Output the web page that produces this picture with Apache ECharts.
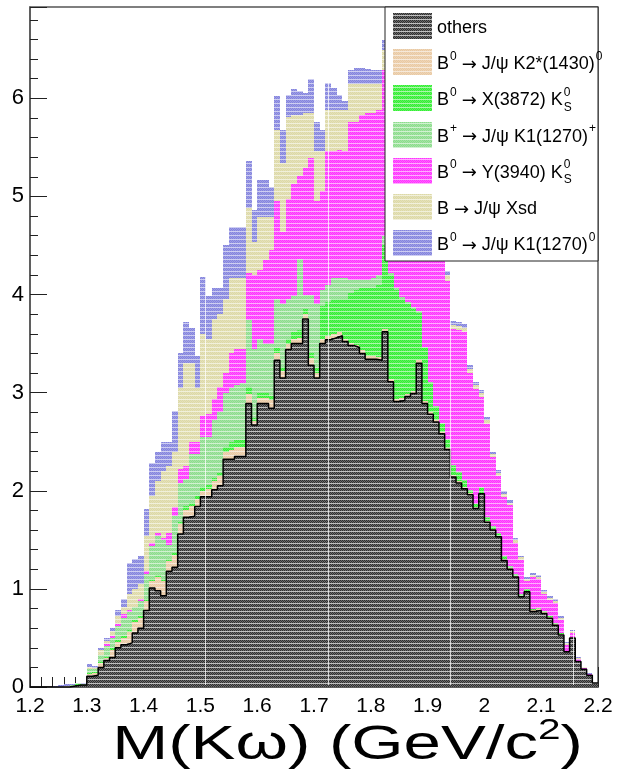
<!DOCTYPE html>
<html><head><meta charset="utf-8">
<script src="https://cdn.jsdelivr.net/npm/echarts@6/dist/echarts.min.js"></script>
<style>html,body{margin:0;padding:0;background:#fff}#c{width:617px;height:776px}</style>
</head><body><div id="c"></div>
<script>
// ---------------- data ----------------
const xMin = 1.2, xMax = 2.2, binWidth = 0.01, nBins = 100;
const yMax = 6.93;
const xTickLabels = ['1.2','1.3','1.4','1.5','1.6','1.7','1.8','1.9','2','2.1','2.2'];
const yTickLabels = ['0','1','2','3','4','5','6'];

const others = [0,0,0,0,0,0,0,0.01,0.02,0.02, 0.11,0.12,0.20,0.27,0.30,0.40,0.43,0.45,0.55,0.60, 0.78,1.01,0.98,0.93,1.18,1.22,1.56,1.73,1.74,1.84, 1.94,1.94,2.01,2.05,2.32,2.32,2.35,2.35,2.89,2.67, 2.89,2.89,2.84,3.33,3.15,3.44,3.50,3.50,3.75,3.28, 3.15,3.50,3.54,3.56,3.58,3.52,3.48,3.46,3.40,3.34, 3.34,3.33,3.62,3.11,2.91,2.92,2.96,2.99,3.30,2.89, 2.78,2.70,2.58,2.42,2.14,2.08,2.02,1.96,1.82,1.97, 1.68,1.60,1.53,1.29,1.20,1.12,0.92,0.97,0.77,0.78, 0.75,0.70,0.63,0.53,0.36,0.50,0.26,0.18,0.12,0.04];
const k2_1430 = [0,0,0,0,0,0,0,0,0,0, .02,.02,.04,.03,.08,.06,.07,.11,.11,.10, .10,.07,.14,.15,.10,.13,.10,.07,.10,.08, .06,.08,.09,.10,.08,.10,.10,.10,.10,.04, .06,.06,.08,.07,.07,.06,.05,.06,.05,.07, .05,.05,.04,.04,.04,.03,.03,.03,.03,.03, .03,.03,.03,.03,.03,.03,.03,.03,.03,.02, .02,.02,.02,.02,.02,.02,.02,.02,.01,.01, .01,.01,.01,.01,.01,.01,.01,.01,.01,.01, .01,.01,.01,.01,.01,.01,.01,0,0,0];
const x3872 = [0,0,0,0,0,0,0,0,.01,0, .01,.01,.01,.01,.02,.02,.02,.02,.02,.02, .02,.02,.02,.02,.02,.02,.02,.04,.04,.03, .04,.04,.03,.03,.05,.08,.07,.07,.07,.03, .05,.05,.05,.05,.04,.05,.07,.08,.05,.05, .05,.33,.34,.35,.33,.40,.51,.56,.64,.70, .70,.74,.85,1.06,1.11,1.00,.91,.83,.48,.54, .30,.13,.08,.08,.09,.08,.06,.02,.03,.05, .03,.02,.02,.02,.01,.01,.01,.01,.01,.01, .01,.01,.01,.01,0,0,0,0,0,0];
const k1p_1270 = [0,0,0,0,0,0,0,.01,.01,.01, .04,.03,.08,.11,.10,.14,.18,.18,.14,.16, .25,.34,.40,.40,.15,.37,.40,.28,.49,.42, .51,.49,.59,.62,.55,.55,.56,.58,.68,.70, .55,.50,.53,.50,.64,.40,.36,.72,.15,.60, .65,.17,.18,.22,.22,.22,.13,.10,.08,.08, .10,.10,.10,.02,.02,.02,.02,.02,.02,.01, .01,.01,.01,.01,.01,.01,.01,.01,.01,.01, .01,.01,.01,.01,.01,.01,.01,.01,.01,.01, 0,0,0,0,0,0,0,0,0,0];
const y3940 = [0,0,0,0,0,0,0,0,0,0, 0,0,0,.02,.02,.02,.04,.02,0,.02, .03,.03,.03,.02,.12,.09,.14,.13,.13,.13, .21,.23,.21,.26,.20,.35,.36,.34,.48,.76, .70,.85,.95,1.00,.74,1.02,1.15,.85,1.29,1.39, 1.05,1.00,1.36,1.29,1.30,1.29,1.61,1.61,1.68,1.70, 1.68,1.68,1.69,2.08,2.03,1.93,1.78,1.63,1.47,1.54, 1.64,1.69,1.71,1.61,1.39,1.45,1.51,1.19,1.17,.92, .95,.70,.58,.61,.62,.32,.34,.08,.32,.29, .18,.17,.21,.13,.06,.04,.02,.01,.01,0];
const xsd = [0,0,0,0,0,0,.01,0,0,0, .02,.01,.05,.03,.05,.08,.08,.17,.18,.15, .36,.48,.53,.68,.68,.57,.83,1.05,.80,.55, .84,.77,.82,.74,.75,.77,.73,.73,.66,.34, .54,.44,.34,.73,.70,.84,.70,.62,.56,.46, .51,.41,.42,.42,.41,.42,.39,.39,.32,.30, .30,.27,.20,.10,.10,.10,.10,.10,.10,.08, .08,.07,.06,.06,.04,.04,.04,.04,.04,.04, .04,.03,.03,.03,.03,.03,.03,.02,.02,.02, .02,.02,.02,.02,.02,.02,.01,.01,0,0];
const k10_1270 = [0,0,0,0,.01,.02,.02,.01,0,.01, .03,.02,.02,.03,.03,.06,.08,.31,.30,.29, .27,.33,.30,.30,.25,.41,.35,.42,.36,.32, .58,.43,.32,.27,.55,.52,.52,.52,.48,.32, .38,.38,.31,.34,.34,.22,.26,.24,.20,.35, .30,.22,.28,.22,.15,.09,.14,.16,.16,.15, .14,.14,.10,.08,.08,.08,.08,.08,.08,.07, .07,.06,.06,.04,.04,.04,.04,.04,.03,.03, .03,.03,.03,.03,.03,.02,.02,.02,.02,.02, .02,.02,.02,.02,.01,.01,.01,0,.01,0];

const seriesNames = ['others','K2*(1430)','X(3872)','K1(1270)+','Y(3940)','Xsd','K1(1270)0'];
const seriesValues = [others, k2_1430, x3872, k1p_1270, y3940, xsd, k10_1270];
const seriesColors = ['#2e2e2e','#e9c9a3','#33ee33','#8cdc8c','#ff33ff','#ddd9a6','#8484de'];

// legend text pieces: [text, kind]  kind: n=normal, arr=arrow, sup, supsub
const legendLabels = [
  [['others','n']],
  [['B','n'],['0','sup'],[' ','n'],['\u2192','arr'],[' J/\u03c8 K2*(1430)','n'],['0','sup']],
  [['B','n'],['0','sup'],[' ','n'],['\u2192','arr'],[' X(3872) K','n'],[['0','S'],'supsub']],
  [['B','n'],['+','sup'],[' ','n'],['\u2192','arr'],[' J/\u03c8 K1(1270)','n'],['+','sup']],
  [['B','n'],['0','sup'],[' ','n'],['\u2192','arr'],[' Y(3940) K','n'],[['0','S'],'supsub']],
  [['B ','n'],['\u2192','arr'],[' J/\u03c8 Xsd','n']],
  [['B','n'],['0','sup'],[' ','n'],['\u2192','arr'],[' J/\u03c8 K1(1270)','n'],['0','sup']]
];

// ---------------- helpers ----------------
const FONT = '"Liberation Sans", Arial, Helvetica, sans-serif';
const AFONT = '"DejaVu Sans", sans-serif';
function hexRgb(h){h=h.replace('#','');return [parseInt(h.slice(0,2),16),parseInt(h.slice(2,4),16),parseInt(h.slice(4,6),16)];}
function mix(h,t){const c=hexRgb(h);return 'rgb('+c.map(v=>Math.round(v+(255-v)*t)).join(',')+')';}
function pattern(base, dot, line){
  const c=document.createElement('canvas');c.width=4;c.height=4;
  const g=c.getContext('2d');
  g.fillStyle=base;g.fillRect(0,0,4,4);
  g.fillStyle=mix(base,dot);
  [[1,0],[3,0],[0,1],[2,1],[1,2],[3,2]].forEach(p=>g.fillRect(p[0],p[1],1,1));
  g.fillStyle=mix(base,line);g.fillRect(0,3,4,1);
  return {image:c, repeat:'repeat'};
}
const patterns = seriesColors.map((c,i)=> i===0 ? pattern(c,0.3,0.7) : pattern(c,0.22,0.6));

const edges=[];for(let i=0;i<=nBins;i++)edges.push(+(xMin+i*binWidth).toFixed(2));
function stepData(vals){const d=vals.map((v,i)=>[edges[i],v]);d.push([edges[nBins],vals[nBins-1]]);return d;}
// one data row per bin: [low edge, high edge, v_others, v_k2, ...]
const binRows = others.map((_,i)=>[edges[i],edges[i+1]].concat(seriesValues.map(s=>s[i])));

const chart = echarts.init(document.getElementById('c'), null, {renderer:'canvas', width:617, height:776});

const grid = {left:30, right:19, top:7, bottom:89};

function renderBin(params, api){
  const xl=api.value(0), xh=api.value(1);
  const x0=Math.round(api.coord([xl,0])[0]), x1=Math.round(api.coord([xh,0])[0]);
  let cum=0; const children=[];
  for(let s=0;s<seriesValues.length;s++){
    const v=api.value(2+s);
    if(!(v>0)) continue;
    const y0=Math.round(api.coord([xl,cum])[1]); cum+=v;
    const y1=Math.round(api.coord([xl,cum])[1]);
    if(y0-y1<=0) continue;
    children.push({type:'rect', shape:{x:x0,y:y1,width:x1-x0,height:y0-y1}, style:{fill:patterns[s]}});
  }
  return {type:'group', children};
}

const series=[{
  type:'custom', name:'stack', coordinateSystem:'cartesian2d', clip:true, silent:true,
  data:binRows, encode:{x:[0,1], y:[2]}, renderItem:renderBin, z:2
},{
  type:'line', name:'othersOutline', step:'end', data:stepData(others), symbol:'none', showSymbol:false, silent:true,
  lineStyle:{width:1.5, color:'#000'}, z:3
}];

// legend graphics
const mctx=document.createElement('canvas').getContext('2d');
function tw(t,size,font){mctx.font=size+'px '+(font||FONT);return mctx.measureText(t).width;}
const graphics=[];
// faint white scan-line artefacts seen in the picture
[205,328,450,573].forEach(px=>graphics.push({type:'line', shape:{x1:px+0.5,y1:9,x2:px+0.5,y2:685}, style:{stroke:'rgba(255,255,255,0.75)', lineWidth:1}, z:20, silent:true}));
const lg={x:385,y:7,w:213,h:254};
graphics.push({type:'rect', shape:{x:lg.x,y:lg.y,width:lg.w,height:lg.h}, style:{fill:'#fff',stroke:'#222',lineWidth:1}, z:100});
const fs=18, fsSup=12;
function txt(t,x,y,size,font,extra){
  return Object.assign({type:'text', x:x, y:y, style:{text:t, font:size+'px '+(font||FONT), fill:'#000', verticalAlign:'middle', align:'left'}, z:102}, extra||{});
}
legendLabels.forEach((parts,i)=>{
  const cy = 26 + i*36.2;
  graphics.push({type:'rect', shape:{x:393,y:Math.round(cy-13),width:39,height:26}, style:{fill:patterns[i]}, z:101});
  let x=437; const my=cy+2;
  parts.forEach(p=>{
    const kind=p[1];
    if(kind==='n'){ graphics.push(txt(p[0],x,my,fs)); x+=tw(p[0],fs); }
    else if(kind==='arr'){ graphics.push(txt(p[0],x,my+1,fs,AFONT)); x+=tw(p[0],fs,AFONT); }
    else if(kind==='sup'){ graphics.push(txt(p[0],x+1,my-8,fsSup)); x+=tw(p[0],fsSup)+1; }
    else if(kind==='supsub'){
      graphics.push(txt(p[0][0],x+1,my-8,fsSup));
      graphics.push(txt(p[0][1],x+1,my+7,fsSup));
      x+=Math.max(tw(p[0][0],fsSup),tw(p[0][1],fsSup))+1;
    }
  });
});
// x-axis title  M(K\u03c9) (GeV/c^2), drawn horizontally stretched like the reference
const tfs=48, tsup=29, tScale=1.40;
const t1='M(K\u03c9) (GeV/c', t2='2', t3=')';
const w1=tw(t1,tfs), w2=tw(t2,tsup), w3=tw(t3,tfs);
const tRight=583, tMid=746;
const tLeft = tRight - (w1+w2+w3)*tScale;
graphics.push({type:'group', x:tLeft, y:0, scaleX:tScale, scaleY:1, z:50, children:[
  {type:'text', x:0, y:tMid, style:{text:t1, font:tfs+'px '+FONT, fill:'#000', verticalAlign:'middle'}},
  {type:'text', x:w1, y:tMid-15, style:{text:t2, font:tsup+'px '+FONT, fill:'#000', verticalAlign:'middle'}},
  {type:'text', x:w1+w2, y:tMid, style:{text:t3, font:tfs+'px '+FONT, fill:'#000', verticalAlign:'middle'}}
]});

const option = {
  animation:false,
  backgroundColor:'#fff',
  grid:Object.assign({show:true, borderColor:'#555', borderWidth:1.5, backgroundColor:'transparent', containLabel:false}, grid),
  xAxis:[{
    type:'value', min:xMin, max:xMax, interval:0.1,
    axisLine:{show:true, onZero:false, lineStyle:{color:'#555', width:1.5}},
    axisTick:{show:true, inside:true, length:20, lineStyle:{color:'#222', width:1}},
    minorTick:{show:true, splitNumber:5, length:10, lineStyle:{color:'#222', width:1}},
    splitLine:{show:false}, minorSplitLine:{show:false},
    axisLabel:{show:true, margin:9, color:'#000', fontSize:21, fontFamily:FONT,
      formatter:(v)=>{const i=Math.round((v-xMin)/0.1);return Math.abs(v-(xMin+i*0.1))<1e-6 ? xTickLabels[i] : '';}}
  }],
  yAxis:[{
    type:'value', min:0, max:yMax, interval:1, position:'left',
    axisLine:{show:true, lineStyle:{color:'#555', width:1.5}},
    axisTick:{show:true, inside:true, length:17, lineStyle:{color:'#222', width:1}},
    splitLine:{show:false},
    axisLabel:{show:true, margin:6, color:'#000', fontSize:22, fontFamily:FONT,
      formatter:(v)=>{const i=Math.round(v);return Math.abs(v-i)<1e-6 && yTickLabels[i]!==undefined ? yTickLabels[i] : '';}}
  },{
    type:'value', min:0, max:yMax, interval:0.2, position:'left', offset:0,
    axisLine:{show:false},
    axisTick:{show:true, inside:true, length:8, lineStyle:{color:'#222', width:1}},
    splitLine:{show:false},
    axisLabel:{show:false}
  }],
  series:series,
  graphic:graphics
};
chart.setOption(option);
</script>
</body></html>
